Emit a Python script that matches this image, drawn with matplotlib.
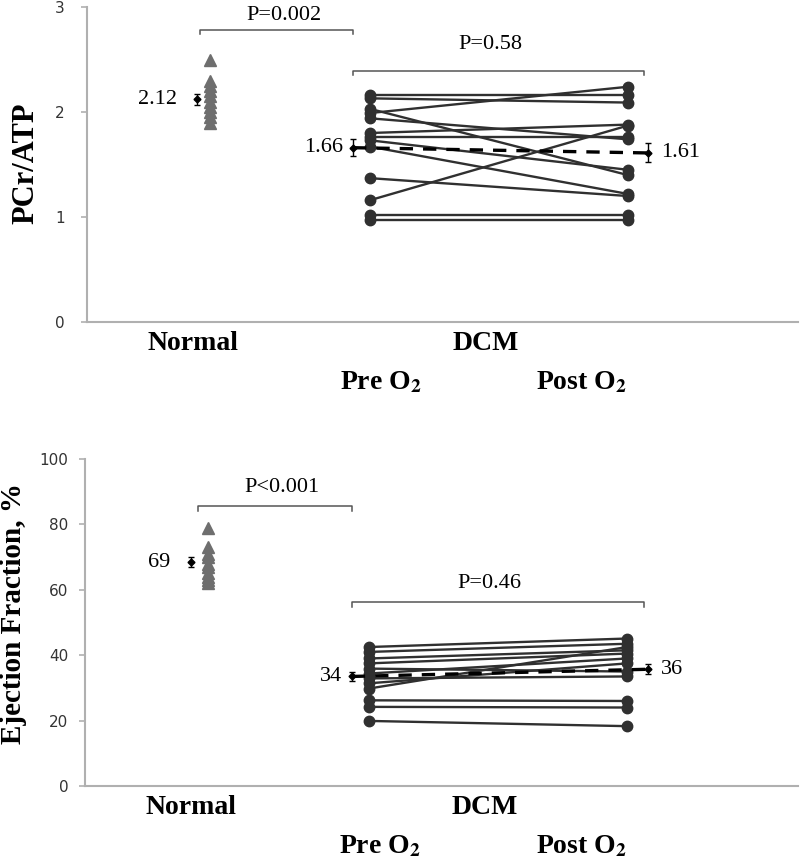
import matplotlib
matplotlib.use("Agg")
import matplotlib.pyplot as plt
import numpy as np

plt.rcParams['font.family'] = ['Liberation Serif', 'DejaVu Serif']
plt.rcParams['mathtext.fontset'] = 'stix'

# x positions of the groups (category units)
X_NORMAL = 1.0
X_PRE = 2.0
X_POST = 3.61

# ---- PCr/ATP ----
pcr_normal = [2.50, 2.30, 2.25, 2.20, 2.15, 2.10, 2.05, 2.00, 1.95, 1.90]
pcr_pre = [2.16, 2.13, 2.03, 1.99, 1.94, 1.80, 1.76, 1.73, 1.67, 1.37, 1.16, 1.02, 0.97]
pcr_post = [2.16, 2.09, 1.40, 2.24, 1.74, 1.88, 1.76, 1.45, 1.22, 1.20, 1.87, 1.02, 0.97]
pcr_means = [2.12, 1.66, 1.61]
pcr_err = [0.05, 0.08, 0.09]
pcr_mean_labels = ["2.12", "1.66", "1.61"]
pcr_pvals = ["P=0.002", "P=0.58"]

# ---- Ejection fraction ----
ef_normal = [79, 73, 71, 70, 68, 67, 65, 64, 63, 62]
ef_pre = [42.5, 41.0, 39.0, 37.5, 35.9, 34.4, 32.9, 31.4, 29.8, 26.2, 24.2, 19.9]
ef_post = [45.1, 43.5, 41.5, 40.5, 35.0, 39.0, 33.5, 37.5, 42.5, 26.0, 24.0, 18.3]
ef_means = [68.5, 33.5, 35.7]
ef_err = [1.5, 1.5, 1.5]
ef_mean_labels = ["69", "34", "36"]
ef_pvals = ["P<0.001", "P=0.46"]

AXIS_GREY = '#b0b0b0'
DARK = '#303030'


def draw_panel(ax, normal, pre, post, means, errs, mlabels, pvals, ylim, yticks,
               ylabel, brackets, text_y, nmean_x, ylabel_size, label_xy, tick_pad):
    # paired DCM lines
    for a, b in zip(pre, post):
        ax.plot([X_PRE, X_POST], [a, b], color=DARK, lw=1.7, marker='o',
                markersize=7.5, markerfacecolor=DARK, markeredgecolor=DARK, zorder=3)
    # normal group
    ax.plot([X_NORMAL] * len(normal), normal, linestyle='none', marker='^',
            markersize=8, color='#6e6e6e', zorder=3)
    # means with error bars
    mx = [nmean_x, X_PRE - 0.106, X_POST + 0.13]
    ax.errorbar(mx, means, yerr=errs, fmt='D', color='black', markersize=3.5,
                capsize=2.5, elinewidth=1, capthick=1, zorder=5)
    ax.plot(mx[1:], means[1:], color='black', lw=2.4, dashes=(4, 3), zorder=4)
    ax.text(mx[0] - 0.125, means[0], mlabels[0], ha='right', va='center', fontsize=16)
    ax.text(mx[1] - 0.06, means[1], mlabels[1], ha='right', va='center', fontsize=16)
    ax.text(mx[2] + 0.08, means[2], mlabels[2], ha='left', va='center', fontsize=16)

    # significance brackets
    for (x0, x1, yb, d), ty, tx, p in zip(brackets, text_y, [1.46, 2.75], pvals):
        ax.plot([x0, x0, x1, x1], [yb - d, yb, yb, yb - d], color='#555555', lw=1.1,
                clip_on=False)
        ax.text(tx, ty, p, ha='center', va='center', fontsize=16)

    ax.set_ylim(*ylim)
    ax.set_xlim(X_NORMAL - 123 / 160, X_NORMAL + 588 / 160)
    ax.set_yticks(yticks)
    ax.set_xticks([])
    for side in ['top', 'right']:
        ax.spines[side].set_visible(False)
    for side in ['left', 'bottom']:
        ax.spines[side].set_color(AXIS_GREY)
        ax.spines[side].set_linewidth(1.5)
    ax.tick_params(axis='y', length=4, width=1.2, color=AXIS_GREY, pad=tick_pad,
                   labelsize=11, labelcolor='#333333')
    for lab in ax.get_yticklabels():
        lab.set_family('DejaVu Sans')
    ax.set_ylabel(ylabel, fontsize=ylabel_size, fontweight='bold', va='center')
    ax.yaxis.set_label_coords(*label_xy)

    # group labels under the axis
    cats = [("Normal", 0.894, -15.5), ("DCM", 2.72, -15.5),
            (r"Pre O$_{\mathbf{2}}$", 2.07, -43.5), (r"Post O$_{\mathbf{2}}$", 3.325, -43.5)]
    for txt, x, off in cats:
        ax.annotate(txt, xy=(x, ylim[0]), xytext=(0, off), textcoords='offset points',
                    ha='center', va='center', fontsize=20, fontweight='bold',
                    annotation_clip=False)


fig = plt.figure(figsize=(8, 8.67), dpi=100)
ax1 = fig.add_axes([87 / 800, 1 - 322 / 867, 711 / 800, 315 / 867])
ax2 = fig.add_axes([85 / 800, 1 - 786 / 867, 713 / 800, 327 / 867])

draw_panel(ax1, pcr_normal, pcr_pre, pcr_post, pcr_means, pcr_err, pcr_mean_labels,
           pcr_pvals, (0, 3), [0, 1, 2, 3], "PCr/ATP",
           [(0.9375, 1.894, 2.78, 0.04), (1.894, 3.7125, 2.39, 0.04)],
           [2.92, 2.64], 0.92, 22, (-0.0858, 0.505), 12)
draw_panel(ax2, ef_normal, ef_pre, ef_post, ef_means, ef_err, ef_mean_labels,
           ef_pvals, (0, 100), [0, 20, 40, 60, 80, 100], "Ejection Fraction, %",
           [(0.9375, 1.894, 85.5, 1.5), (1.894, 3.7125, 56.2, 1.5)],
           [91.4, 62.0], 0.89, 21, (-0.0996, 0.527), 8)

fig.savefig("out.png", dpi=100)
